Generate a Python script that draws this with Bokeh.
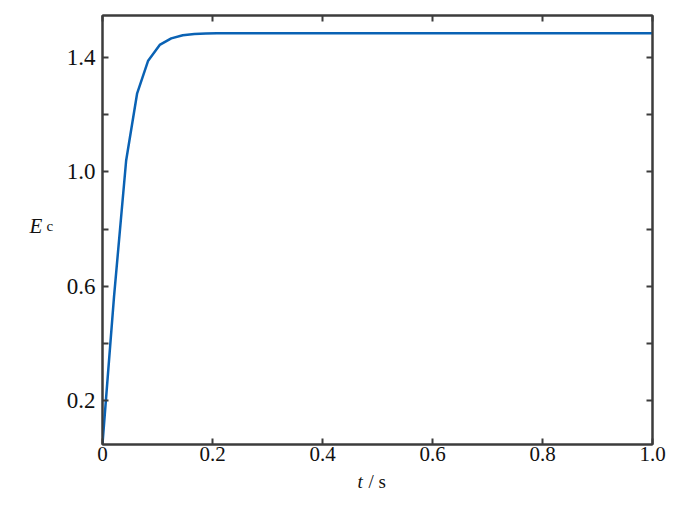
from bokeh.plotting import figure
from bokeh.models import LinearAxis, FixedTicker, Range1d, PrintfTickFormatter, Label
from bokeh.layouts import row, column
from bokeh.core.properties import value
from bokeh.embed import file_html
from bokeh.resources import INLINE

# data
t_vals = [0.0, 0.021, 0.043, 0.063, 0.083, 0.104, 0.125, 0.146, 0.167, 0.188, 0.208,
          0.25, 0.3, 0.4, 0.5, 0.6, 0.7, 0.8, 0.9, 1.0]
ec_vals = [0.05, 0.565, 1.04, 1.275, 1.389, 1.444, 1.467, 1.478, 1.482, 1.484, 1.485,
           1.485, 1.485, 1.485, 1.485, 1.485, 1.485, 1.485, 1.485, 1.485]
x_ticks = [0.0, 0.2, 0.4, 0.6, 0.8, 1.0]
y_ticks = [0.2, 0.4, 0.6, 0.8, 1.0, 1.2, 1.4]
x_overrides = {0: "0"}
y_overrides = {0.4: "", 0.8: "", 1.2: ""}

FONT = "Liberation Serif"
AX = "#3c3c3c"
TXT = "#111111"

LEFT_W = 60
MAIN_W = 624
MAIN_H = 470
TITLE_H = 21

# ---------------- main chart ----------------
p = figure(width=MAIN_W, height=MAIN_H, output_backend="svg", toolbar_location=None,
           x_range=Range1d(0, 1.0), y_range=Range1d(0.047, 1.547),
           min_border_left=42, min_border_right=32, min_border_top=15, min_border_bottom=26)
p.grid.visible = False
p.outline_line_color = AX
p.outline_line_width = 2

p.line(t_vals, ec_vals, line_color="#0a62b4", line_width=2.5)

def style(ax):
    ax.axis_line_color = AX
    ax.axis_line_width = 2
    ax.major_tick_line_color = AX
    ax.major_tick_line_width = 2
    ax.major_tick_in = 6
    ax.major_tick_out = 0
    ax.minor_tick_line_color = None
    ax.major_label_text_font = FONT
    ax.major_label_text_color = TXT
    ax.major_label_text_font_size = "21px"

xa = p.xaxis[0]
xa.ticker = FixedTicker(ticks=x_ticks)
xa.formatter = PrintfTickFormatter(format="%.1f")
xa.major_label_overrides = x_overrides
style(xa)
xa.major_label_standoff = 2

ya = p.yaxis[0]
ya.ticker = FixedTicker(ticks=y_ticks)
ya.formatter = PrintfTickFormatter(format="%.1f")
ya.major_label_overrides = y_overrides
style(ya)
ya.major_label_text_font_size = "23px"
ya.major_label_standoff = 7

top = LinearAxis(ticker=FixedTicker(ticks=x_ticks),
                 major_label_overrides={t: "" for t in x_ticks})
style(top)
top.major_label_standoff = 0
p.add_layout(top, "above")
right = LinearAxis(ticker=FixedTicker(ticks=y_ticks),
                   major_label_overrides={t: "" for t in y_ticks})
style(right)
right.major_label_standoff = 0
p.add_layout(right, "right")

# ---------------- y-axis title panel ----------------
pl = figure(width=LEFT_W, height=MAIN_H, output_backend="svg", toolbar_location=None,
            x_range=Range1d(0, LEFT_W), y_range=Range1d(MAIN_H, 0),
            x_axis_type=None, y_axis_type=None, min_border=0)
pl.grid.visible = False
pl.outline_line_color = None
pl.text(x=[29], y=[231], text=["E"], text_font=value(FONT), text_font_style="italic",
        text_font_size="21px", text_baseline="alphabetic", text_align="left", text_color=TXT)
pl.text(x=[46], y=[231], text=["c"], text_font=value(FONT),
        text_font_size="15px", text_baseline="alphabetic", text_align="left", text_color=TXT)

# ---------------- x-axis title panel ----------------
W_ALL = LEFT_W + MAIN_W
pb = figure(width=W_ALL, height=TITLE_H, output_backend="svg", toolbar_location=None,
            x_range=Range1d(0, W_ALL), y_range=Range1d(0, TITLE_H),
            x_axis_type=None, y_axis_type=None, min_border=0)
pb.grid.visible = False
pb.outline_line_color = None
pb.add_layout(Label(x=357, y=TITLE_H / 2, text="t", text_font=FONT, text_font_style="italic",
                    text_font_size="19px", text_baseline="middle", text_align="left",
                    text_color=TXT))
pb.add_layout(Label(x=368, y=TITLE_H / 2, text="/ s", text_font=FONT,
                    text_font_size="19px", text_baseline="middle", text_align="left",
                    text_color=TXT))

layout = column(row(pl, p, spacing=0), pb, spacing=0)
open("out.html", "w").write(file_html(layout, INLINE))
